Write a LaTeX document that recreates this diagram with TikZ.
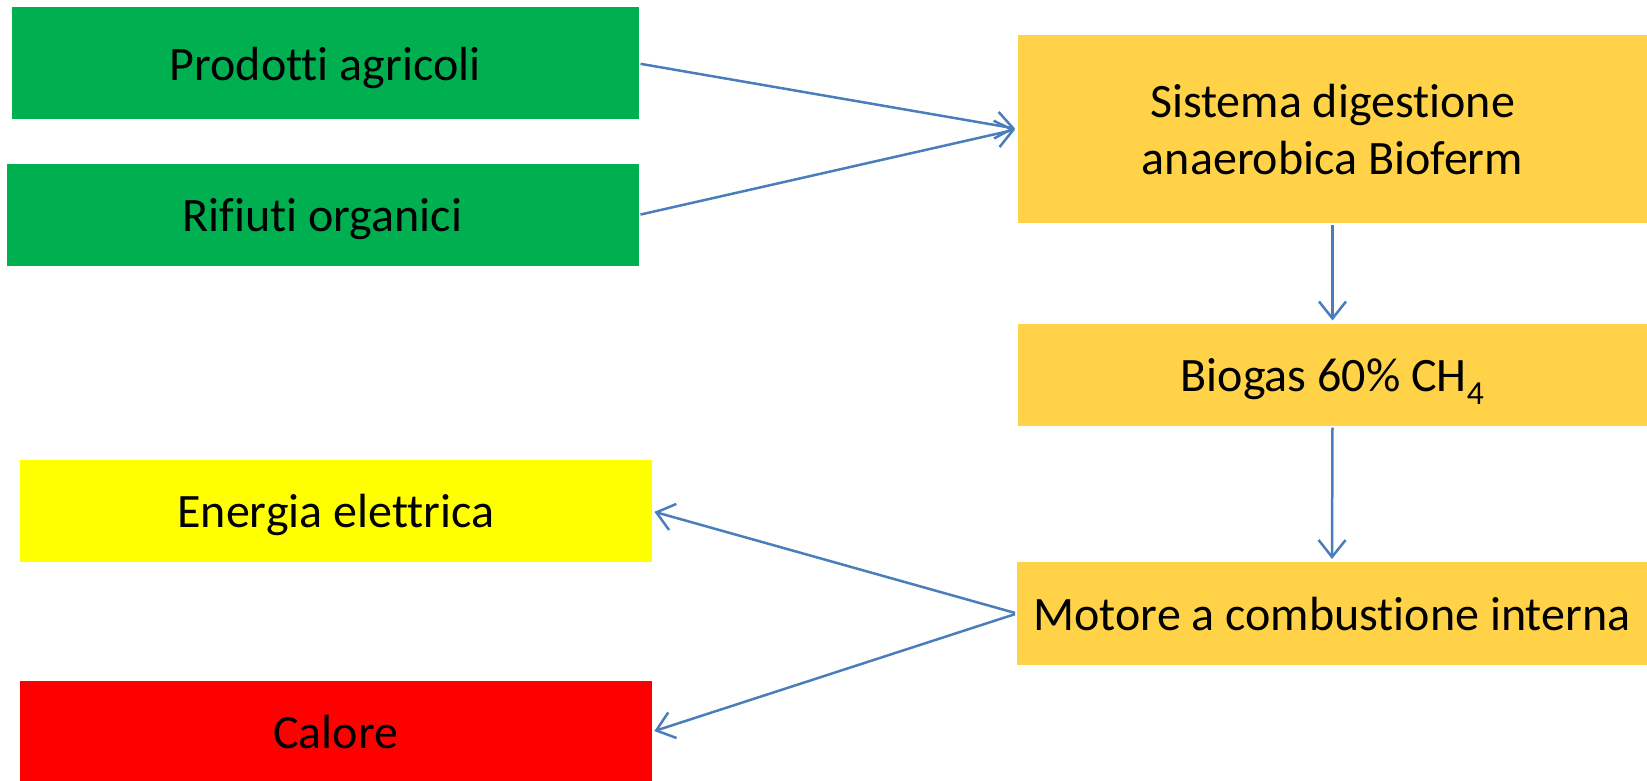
\documentclass[tikz,border=0pt]{standalone}
\usepackage{fontspec}
\setmainfont{Carlito}[Ligatures={NoCommon,NoContextual}]
\usetikzlibrary{arrows.meta}
\definecolor{cgreen}{HTML}{00B050}
\definecolor{cyellow}{HTML}{FFFF00}
\definecolor{cred}{HTML}{FF0000}
\definecolor{cgold}{HTML}{FFD248}
\definecolor{cblue}{HTML}{4A7EBB}
\begin{document}
\begin{tikzpicture}[x=1pt,y=-1pt,
  box/.style={rectangle, inner sep=0pt, outer sep=0pt, align=center,
    font=\fontsize{48}{57}\selectfont, text=black, text depth=0pt},
  flow/.style={draw=cblue, line width=2.5pt,
    -{Straight Barb[length=17pt,width=27pt,line width=2.5pt]},
    shorten <=2pt, shorten >=3pt}]
\useasboundingbox (0,0) rectangle (1647,781);
\node[box, fill=cgreen, minimum width=627pt, minimum height=112pt] (prod) at (325.1,63.5) {Prodotti agricoli};
\node[box, fill=cgreen, minimum width=632pt, minimum height=102pt] (rif) at (322.5,215) {Rifiuti organici};
\node[box, fill=cgold, minimum width=629pt, minimum height=188pt] (sis) at (1332.5,129) {Sistema digestione\\anaerobica Bioferm};
\node[box, fill=cgold, minimum width=629pt, minimum height=102pt] (bio) at (1332.5,374.5) {Biogas 60\% CH\textsubscript{4}};
\node[box, fill=cgold, minimum width=630pt, minimum height=103pt] (mot) at (1332,613.5) {Motore a combustione interna};
\node[box, fill=cyellow, minimum width=631.5pt, minimum height=102pt] (ene) at (335.75,511) {Energia elettrica};
\node[box, fill=cred, minimum width=631.5pt, minimum height=102pt] (cal) at (335.75,732) {Calore};
\draw[flow] (prod.east) -- (sis.west);
\draw[flow] (rif.east) -- (sis.west);
\draw[flow] (sis.south) -- (bio.north);
\draw[flow] (bio.south) -- (mot.north);
\draw[flow] (mot.west) -- (ene.east);
\draw[flow] (mot.west) -- (cal.east);
\end{tikzpicture}
\end{document}
